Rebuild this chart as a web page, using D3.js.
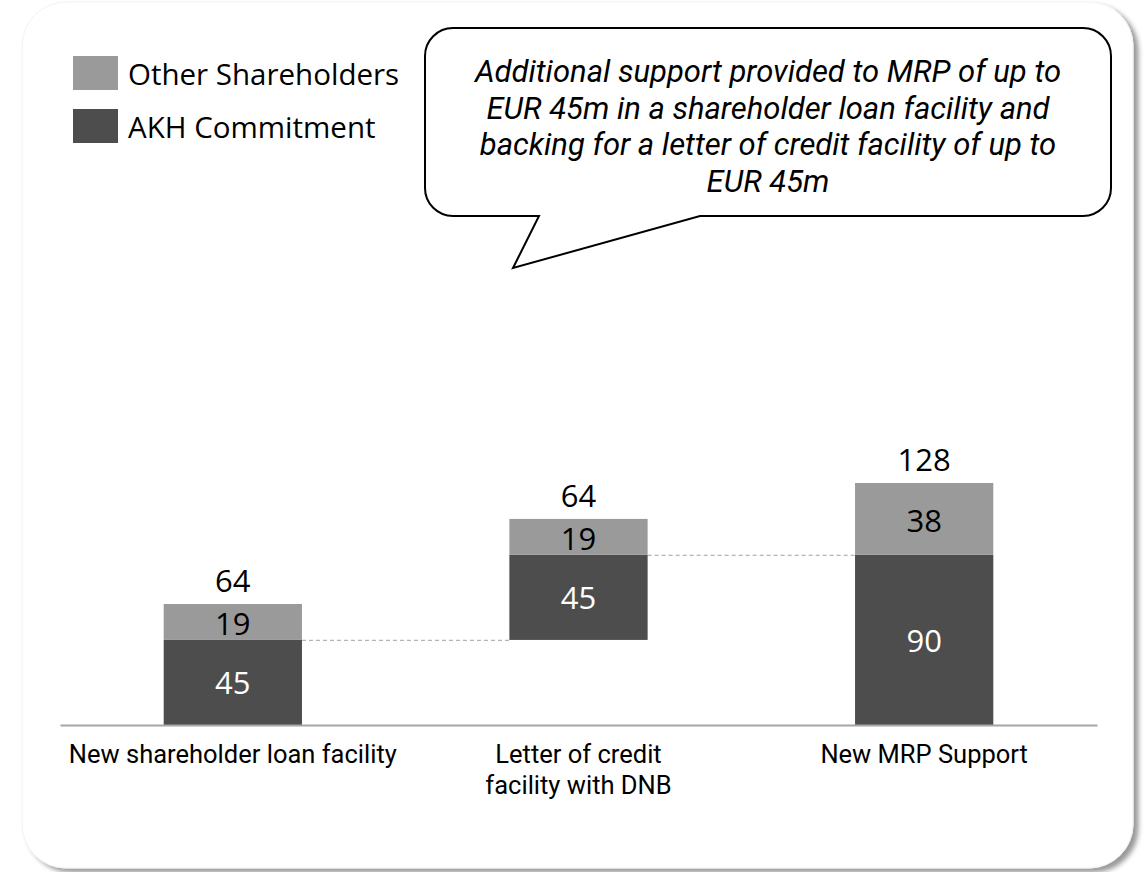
<!DOCTYPE html>
<html>
<head>
<meta charset="utf-8">
<script src="https://cdn.jsdelivr.net/npm/d3@7"></script>
<style>
  html, body { margin: 0; padding: 0; background: #ffffff; }
  svg { display: block; }
  text { font-family: "Segoe UI", "Open Sans", "Noto Sans", sans-serif; }
  text.tight { font-family: "Segoe UI", Roboto, "Open Sans", sans-serif; }
</style>
</head>
<body>
<svg id="chart" width="1145" height="872"></svg>
<script>
// ---- data ----
const categories = ["New shareholder loan facility", "Letter of credit facility with DNB", "New MRP Support"];
const categoryLines = [["New shareholder loan facility"], ["Letter of credit", "facility with DNB"], ["New MRP Support"]];
const seriesNames = ["Other Shareholders", "AKH Commitment"];
const akhValues = [45, 45, 90];
const otherValues = [19, 19, 38];
const baseValues = [0, 45, 0];      // waterfall starting level of each bar
const totalLabels = ["64", "64", "128"];
const calloutLines = [
  "Additional support provided to MRP of up to",
  "EUR 45m in a shareholder loan facility and",
  "backing for a letter of credit facility of up to",
  "EUR 45m"
];

const colors = { other: "#9a9a9a", akh: "#4d4d4d" };

const svg = d3.select("#chart");

// ---- card with shadow ----
const defs = svg.append("defs");
const f = defs.append("filter").attr("id", "shadow").attr("x", "-5%").attr("y", "-5%").attr("width", "115%").attr("height", "115%");
f.append("feDropShadow").attr("dx", 5).attr("dy", 4).attr("stdDeviation", 2.5).attr("flood-color", "#000").attr("flood-opacity", 0.4);

svg.append("rect")
  .attr("x", 22).attr("y", 2).attr("width", 1111).attr("height", 866)
  .attr("rx", 44).attr("ry", 44)
  .attr("fill", "#ffffff")
  .attr("stroke", "#f2f2f2").attr("stroke-width", 1)
  .attr("filter", "url(#shadow)");

// ---- scales ----
const x = d3.scaleBand().domain(categories).range([60, 1097]).paddingInner(0.6).paddingOuter(0.3);
const y = d3.scaleLinear().domain([0, 128]).range([725, 483]);

const rows = categories.map((c, i) => ({
  cat: c, lines: categoryLines[i], base: baseValues[i], akh: akhValues[i], other: otherValues[i], total: totalLabels[i]
}));

const g = svg.append("g");

// connectors (dashed)
for (let i = 0; i < rows.length - 1; i++) {
  const level = rows[i].base + rows[i].akh;
  g.append("line")
    .attr("x1", x(rows[i].cat) + x.bandwidth())
    .attr("x2", x(rows[i + 1].cat))
    .attr("y1", y(level) + 0.5).attr("y2", y(level) + 0.5)
    .attr("stroke", "#b5b5b5").attr("stroke-width", 1.2)
    .attr("stroke-dasharray", "4,3");
}

// AKH segments
g.selectAll("rect.akh").data(rows).join("rect").attr("class", "akh")
  .attr("x", d => x(d.cat)).attr("width", x.bandwidth())
  .attr("y", d => y(d.base + d.akh)).attr("height", d => y(d.base) - y(d.base + d.akh))
  .attr("fill", colors.akh);

// Other segments
g.selectAll("rect.other").data(rows).join("rect").attr("class", "other")
  .attr("x", d => x(d.cat)).attr("width", x.bandwidth())
  .attr("y", d => y(d.base + d.akh + d.other)).attr("height", d => y(d.base + d.akh) - y(d.base + d.akh + d.other))
  .attr("fill", colors.other);

// value labels
g.selectAll("text.akhv").data(rows).join("text")
  .attr("x", d => x(d.cat) + x.bandwidth() / 2)
  .attr("y", d => (y(d.base) + y(d.base + d.akh)) / 2 + 12)
  .attr("text-anchor", "middle").attr("font-size", 31).attr("fill", "#ffffff")
  .text(d => d.akh);

g.selectAll("text.otherv").data(rows).join("text")
  .attr("x", d => x(d.cat) + x.bandwidth() / 2)
  .attr("y", d => (y(d.base + d.akh) + y(d.base + d.akh + d.other)) / 2 + 13)
  .attr("text-anchor", "middle").attr("font-size", 31).attr("fill", "#000000")
  .text(d => d.other);

g.selectAll("text.totv").data(rows).join("text")
  .attr("x", d => x(d.cat) + x.bandwidth() / 2)
  .attr("y", d => y(d.base + d.akh + d.other) - 12)
  .attr("text-anchor", "middle").attr("font-size", 31).attr("fill", "#000000")
  .text(d => d.total);

// baseline axis
const xAxis = d3.axisBottom(x).tickSize(0).tickFormat("");
const axG = svg.append("g").attr("transform", `translate(0,${y(0)})`).call(xAxis);
axG.select(".domain").attr("stroke", "#a6a6a6").attr("stroke-width", 2);

// category labels
const catG = svg.append("g");
rows.forEach(d => {
  d.lines.forEach((ln, j) => {
    catG.append("text").attr("class", "tight")
      .attr("x", x(d.cat) + x.bandwidth() / 2)
      .attr("y", 763 + j * 30.5)
      .attr("text-anchor", "middle").attr("font-size", 25.5).attr("fill", "#000")
      .text(ln);
  });
});

// legend
const legend = svg.append("g");
const legendColors = [colors.other, colors.akh];
seriesNames.forEach((n, i) => {
  legend.append("rect").attr("x", 73).attr("y", 56 + i * 53).attr("width", 45).attr("height", 34).attr("fill", legendColors[i]);
  legend.append("text").attr("x", 128).attr("y", 85 + i * 53).attr("font-size", 29.5).attr("fill", "#000").text(n);
});

// callout bubble
const bx0 = 425, by0 = 28, bx1 = 1111, by1 = 216, r = 28;
const tailL = 539, tailR = 700, tipX = 513, tipY = 268;
const p = d3.path();
p.moveTo(bx0 + r, by0);
p.lineTo(bx1 - r, by0);
p.arcTo(bx1, by0, bx1, by0 + r, r);
p.lineTo(bx1, by1 - r);
p.arcTo(bx1, by1, bx1 - r, by1, r);
p.lineTo(tailR, by1);
p.lineTo(tipX, tipY);
p.lineTo(tailL, by1);
p.lineTo(bx0 + r, by1);
p.arcTo(bx0, by1, bx0, by1 - r, r);
p.lineTo(bx0, by0 + r);
p.arcTo(bx0, by0, bx0 + r, by0, r);
p.closePath();
svg.append("path").attr("d", p.toString()).attr("fill", "#fff").attr("stroke", "#000").attr("stroke-width", 2);

calloutLines.forEach((ln, j) => {
  svg.append("text").attr("class", "tight")
    .attr("text-anchor", "middle").attr("font-size", 31).attr("font-style", "italic").attr("fill", "#000")
    .attr("x", (bx0 + bx1) / 2).attr("y", 82 + j * 36.5).text(ln);
});
</script>
</body>
</html>
